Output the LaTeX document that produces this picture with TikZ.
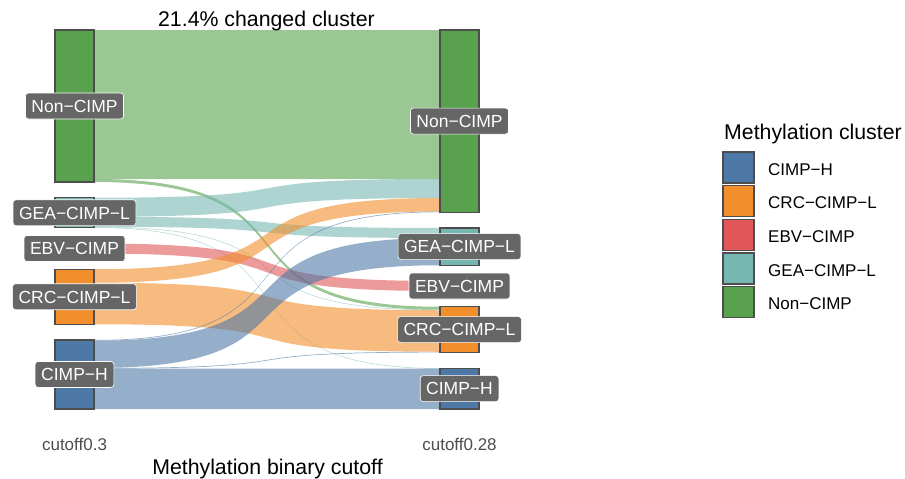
\documentclass[tikz,border=0pt]{standalone}
\usepackage{fontspec}
\setmainfont{Liberation Sans}
\definecolor{cimph}{HTML}{4E79A7}
\definecolor{crccimpl}{HTML}{F28E2B}
\definecolor{ebvcimp}{HTML}{E15759}
\definecolor{geacimpl}{HTML}{76B7B2}
\definecolor{noncimp}{HTML}{59A14F}
\definecolor{labelgray}{HTML}{666666}
\definecolor{edgegray}{HTML}{4D4D4D}
\newcommand{\flowband}[5]{%
  \fill[#1, opacity=0.6] (94,#2) .. controls (336.2,#2) and (197.8,#4) .. (440,#4)
    -- (440,#5) .. controls (197.8,#5) and (336.2,#3) .. (94,#3) -- cycle;}
\begin{document}
\begin{tikzpicture}[x=1pt, y=-1pt,
    stratum/.style={draw=edgegray, line width=1.1pt},
    catlabel/.style={rounded corners=3pt, fill=labelgray, draw=white, line width=0.6pt,
      text=white, font=\fontsize{17.5}{21}\selectfont, inner xsep=6pt, inner ysep=0pt,
      text height=12.5pt, text depth=0pt, minimum height=26pt},
    legkey/.style={draw=edgegray, line width=1.4pt, minimum size=31pt, inner sep=0pt},
    legtext/.style={anchor=base west, inner sep=0pt, font=\fontsize{17}{20}\selectfont},
    axistext/.style={anchor=base, inner sep=0pt, text=edgegray, font=\fontsize{17}{20}\selectfont},
    bigtext/.style={anchor=base, inner sep=0pt, font=\fontsize{21.3}{25}\selectfont}]
    \useasboundingbox (0,0) rectangle (905,479);
    \flowband{noncimp}{30}{179}{30}{179}
    \flowband{noncimp}{179}{182}{306.75}{309.75}
    \flowband{geacimpl}{197.75}{216.75}{179}{198}
    \flowband{geacimpl}{216.75}{226.75}{227.95}{237.95}
    \flowband{geacimpl}{226.75}{227.25}{309.75}{310.25}
    \flowband{geacimpl}{227.25}{227.75}{368.2}{368.7}
    \flowband{ebvcimp}{243.5}{253.5}{281}{291}
    \flowband{crccimpl}{269.25}{282.75}{198}{211.5}
    \flowband{crccimpl}{282.75}{324.25}{310.25}{351.75}
    \flowband{cimph}{340}{340.7}{211.5}{212.2}
    \flowband{cimph}{340.7}{368}{237.95}{265.25}
    \flowband{cimph}{368}{368.7}{351.75}{352.45}
    \flowband{cimph}{368.7}{409}{368.7}{409}
    \draw[stratum, fill=noncimp] (55,30) rectangle (94,182);
    \draw[stratum, fill=geacimpl] (55,197.75) rectangle (94,227.75);
    \draw[stratum, fill=ebvcimp] (55,243.5) rectangle (94,253.5);
    \draw[stratum, fill=crccimpl] (55,269.25) rectangle (94,324.25);
    \draw[stratum, fill=cimph] (55,340) rectangle (94,409);
    \draw[stratum, fill=noncimp] (440,30) rectangle (479,212.2);
    \draw[stratum, fill=geacimpl] (440,227.95) rectangle (479,265.25);
    \draw[stratum, fill=ebvcimp] (440,281) rectangle (479,291);
    \draw[stratum, fill=crccimpl] (440,306.75) rectangle (479,352.45);
    \draw[stratum, fill=cimph] (440,368.2) rectangle (479,409);
    \node[catlabel] (lnon) at (74.5,106) {Non−CIMP};
    \node[catlabel] (lgea) at (74.5,212.75) {GEA−CIMP−L};
    \node[catlabel] (lebv) at (74.5,248.5) {EBV−CIMP};
    \node[catlabel] (lcrc) at (74.5,296.75) {CRC−CIMP−L};
    \node[catlabel] (lhigh) at (74.5,374.5) {CIMP−H};
    \node[catlabel] (rnon) at (459.5,121.1) {Non−CIMP};
    \node[catlabel] (rgea) at (459.5,246.6) {GEA−CIMP−L};
    \node[catlabel] (rebv) at (459.5,286) {EBV−CIMP};
    \node[catlabel] (rcrc) at (459.5,329.6) {CRC−CIMP−L};
    \node[catlabel] (rhigh) at (459.5,388.6) {CIMP−H};
    \node[bigtext] (charttitle) at (266.5,27) {21.4\% changed cluster};
    \node[axistext] (cutleft) at (74.5,450) {cutoff0.3};
    \node[axistext] (cutright) at (459.5,450) {cutoff0.28};
    \node[bigtext] (axistitle) at (267.5,474.5) {Methylation binary cutoff};
    \node[bigtext, anchor=base west] (legtitle) at (724,139.5) {Methylation cluster};
    \node[legkey, fill=cimph] (keyhigh) at (738.5,167.5) {};
    \node[legkey, fill=crccimpl] (keycrc) at (738.5,201.2) {};
    \node[legkey, fill=ebvcimp] (keyebv) at (738.5,234.8) {};
    \node[legkey, fill=geacimpl] (keygea) at (738.5,268.5) {};
    \node[legkey, fill=noncimp] (keynon) at (738.5,302.2) {};
    \node[legtext] (txthigh) at (768,175) {CIMP−H};
    \node[legtext] (txtcrc) at (768,208.7) {CRC−CIMP−L};
    \node[legtext] (txtebv) at (768,242.3) {EBV−CIMP};
    \node[legtext] (txtgea) at (768,276) {GEA−CIMP−L};
    \node[legtext] (txtnon) at (768,309.7) {Non−CIMP};
\end{tikzpicture}
\end{document}
